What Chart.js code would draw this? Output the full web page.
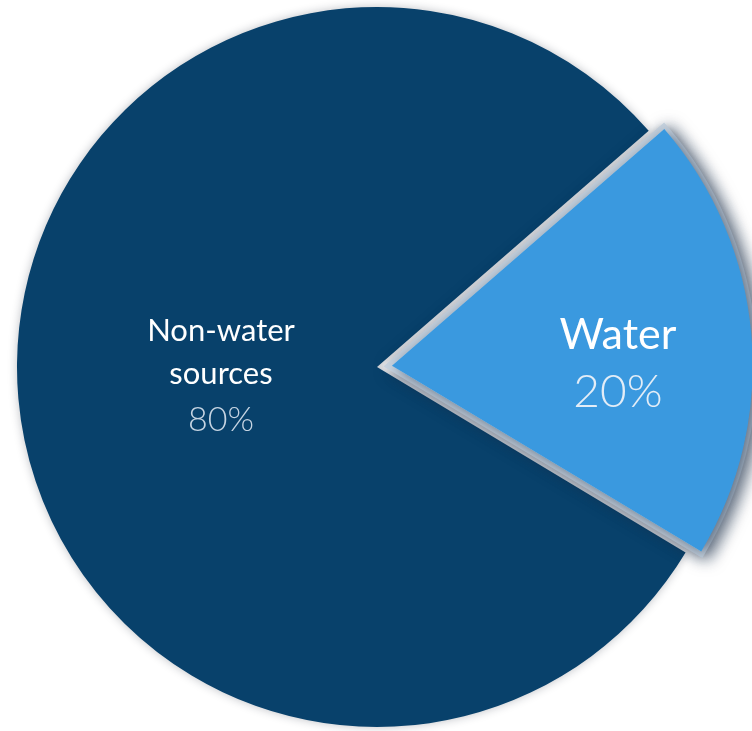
<!DOCTYPE html>
<html>
<head>
<meta charset="utf-8">
<script src="https://cdn.jsdelivr.net/npm/chart.js@4"></script>
<style>
html, body { margin: 0; padding: 0; background: #ffffff; overflow: hidden; }
#wrap { position: absolute; left: 0; top: 0; }
</style>
</head>
<body>
<div id="wrap"><canvas id="pieChart" width="754" height="734"></canvas></div>
<script>

// data
const categories = ["Non-water sources", "Water"]
const labelLines = [["Non-water", "sources"], ["Water"]]
const shares = [80, 20]
const sliceColors = ["#08416B", "#3A99DF"]


// label placement for each slice: distance from centre (fraction of radius)
// and baselines of each text line relative to that point
const labelStyle = [
  { dist: 0.435, lines: [-40, 3], pctLine: 50, nameSize: 31, pctSize: 34, pctColor: "#C6D4E2" },
  { dist: 0.63, lines: [3], pctLine: 61, nameSize: 43, pctSize: 46, pctColor: "#E3EDF7" }
]


// soft shadow under the whole pie
const pieShadow = {
  id: "pieShadow",
  beforeDatasetDraw(chart){
    const ctx = chart.ctx
    ctx.save()
    ctx.shadowColor = "rgba(20,30,45,0.28)"
    ctx.shadowBlur = 10
    ctx.shadowOffsetX = 0
    ctx.shadowOffsetY = 0
  },
  afterDatasetDraw(chart){
    chart.ctx.restore()
  }
}


// pulled-out slice gets a pale rim and a drop shadow
const sliceRim = {
  id: "sliceRim",
  afterDatasetsDraw(chart){
    const ctx = chart.ctx
    const arc = chart.getDatasetMeta(0).data[1]
    const p = arc.getProps(["x", "y", "startAngle", "endAngle", "outerRadius"], true)
    const shift = (arc.options.offset || 0) / 4
    const mid = (p.startAngle + p.endAngle) / 2
    const cx = p.x + Math.cos(mid) * shift
    const cy = p.y + Math.sin(mid) * shift

    ctx.save()
    ctx.shadowColor = "rgba(25,45,70,0.65)"
    ctx.shadowBlur = 16
    ctx.shadowOffsetX = 5
    ctx.shadowOffsetY = 3
    ctx.beginPath()
    ctx.moveTo(cx, cy)
    ctx.arc(cx, cy, p.outerRadius, p.startAngle, p.endAngle)
    ctx.closePath()
    ctx.lineJoin = "miter"
    ctx.lineWidth = 10
    ctx.strokeStyle = "#C8D4E0"
    ctx.stroke()
    ctx.fillStyle = "#C8D4E0"
    ctx.fill()
    ctx.restore()

    arc.draw(ctx)
  }
}


// slice names and percentages
const sliceLabels = {
  id: "sliceLabels",
  afterDraw(chart){
    const ctx = chart.ctx
    const meta = chart.getDatasetMeta(0)
    meta.data.forEach((arc, i) => {
      const p = arc.getProps(["x", "y", "startAngle", "endAngle", "outerRadius"], true)
      const st = labelStyle[i]
      const shift = (arc.options.offset || 0) / 4
      const mid = (p.startAngle + p.endAngle) / 2
      const r = shift + p.outerRadius * st.dist
      const lx = p.x + Math.cos(mid) * r
      const ly = p.y + Math.sin(mid) * r

      ctx.save()
      ctx.textAlign = "center"
      ctx.textBaseline = "alphabetic"
      ctx.fillStyle = "#ffffff"
      ctx.font = "400 " + st.nameSize + "px Lato, 'Open Sans', sans-serif"
      labelLines[i].forEach((t, k) => {
        ctx.fillText(t, lx, ly + st.lines[k])
      })
      ctx.fillStyle = st.pctColor
      ctx.font = "300 " + st.pctSize + "px Lato, 'Open Sans', sans-serif"
      ctx.fillText(shares[i] + "%", lx, ly + st.pctLine)
      ctx.restore()
    })
  }
}


const ctx = document.getElementById("pieChart").getContext("2d")

new Chart(ctx, {
  type: "pie",
  data: {
    labels: categories,
    datasets: [{
      data: shares,
      backgroundColor: sliceColors,
      borderWidth: 0,
      offset: [0, 60]
    }]
  },
  options: {
    responsive: false,
    animation: false,
    events: [],
    radius: 360,
    rotation: 121,
    layout: { padding: 0 },
    plugins: {
      legend: { display: false },
      tooltip: { enabled: false }
    }
  },
  plugins: [pieShadow, sliceRim, sliceLabels]
})

</script>
</body>
</html>
